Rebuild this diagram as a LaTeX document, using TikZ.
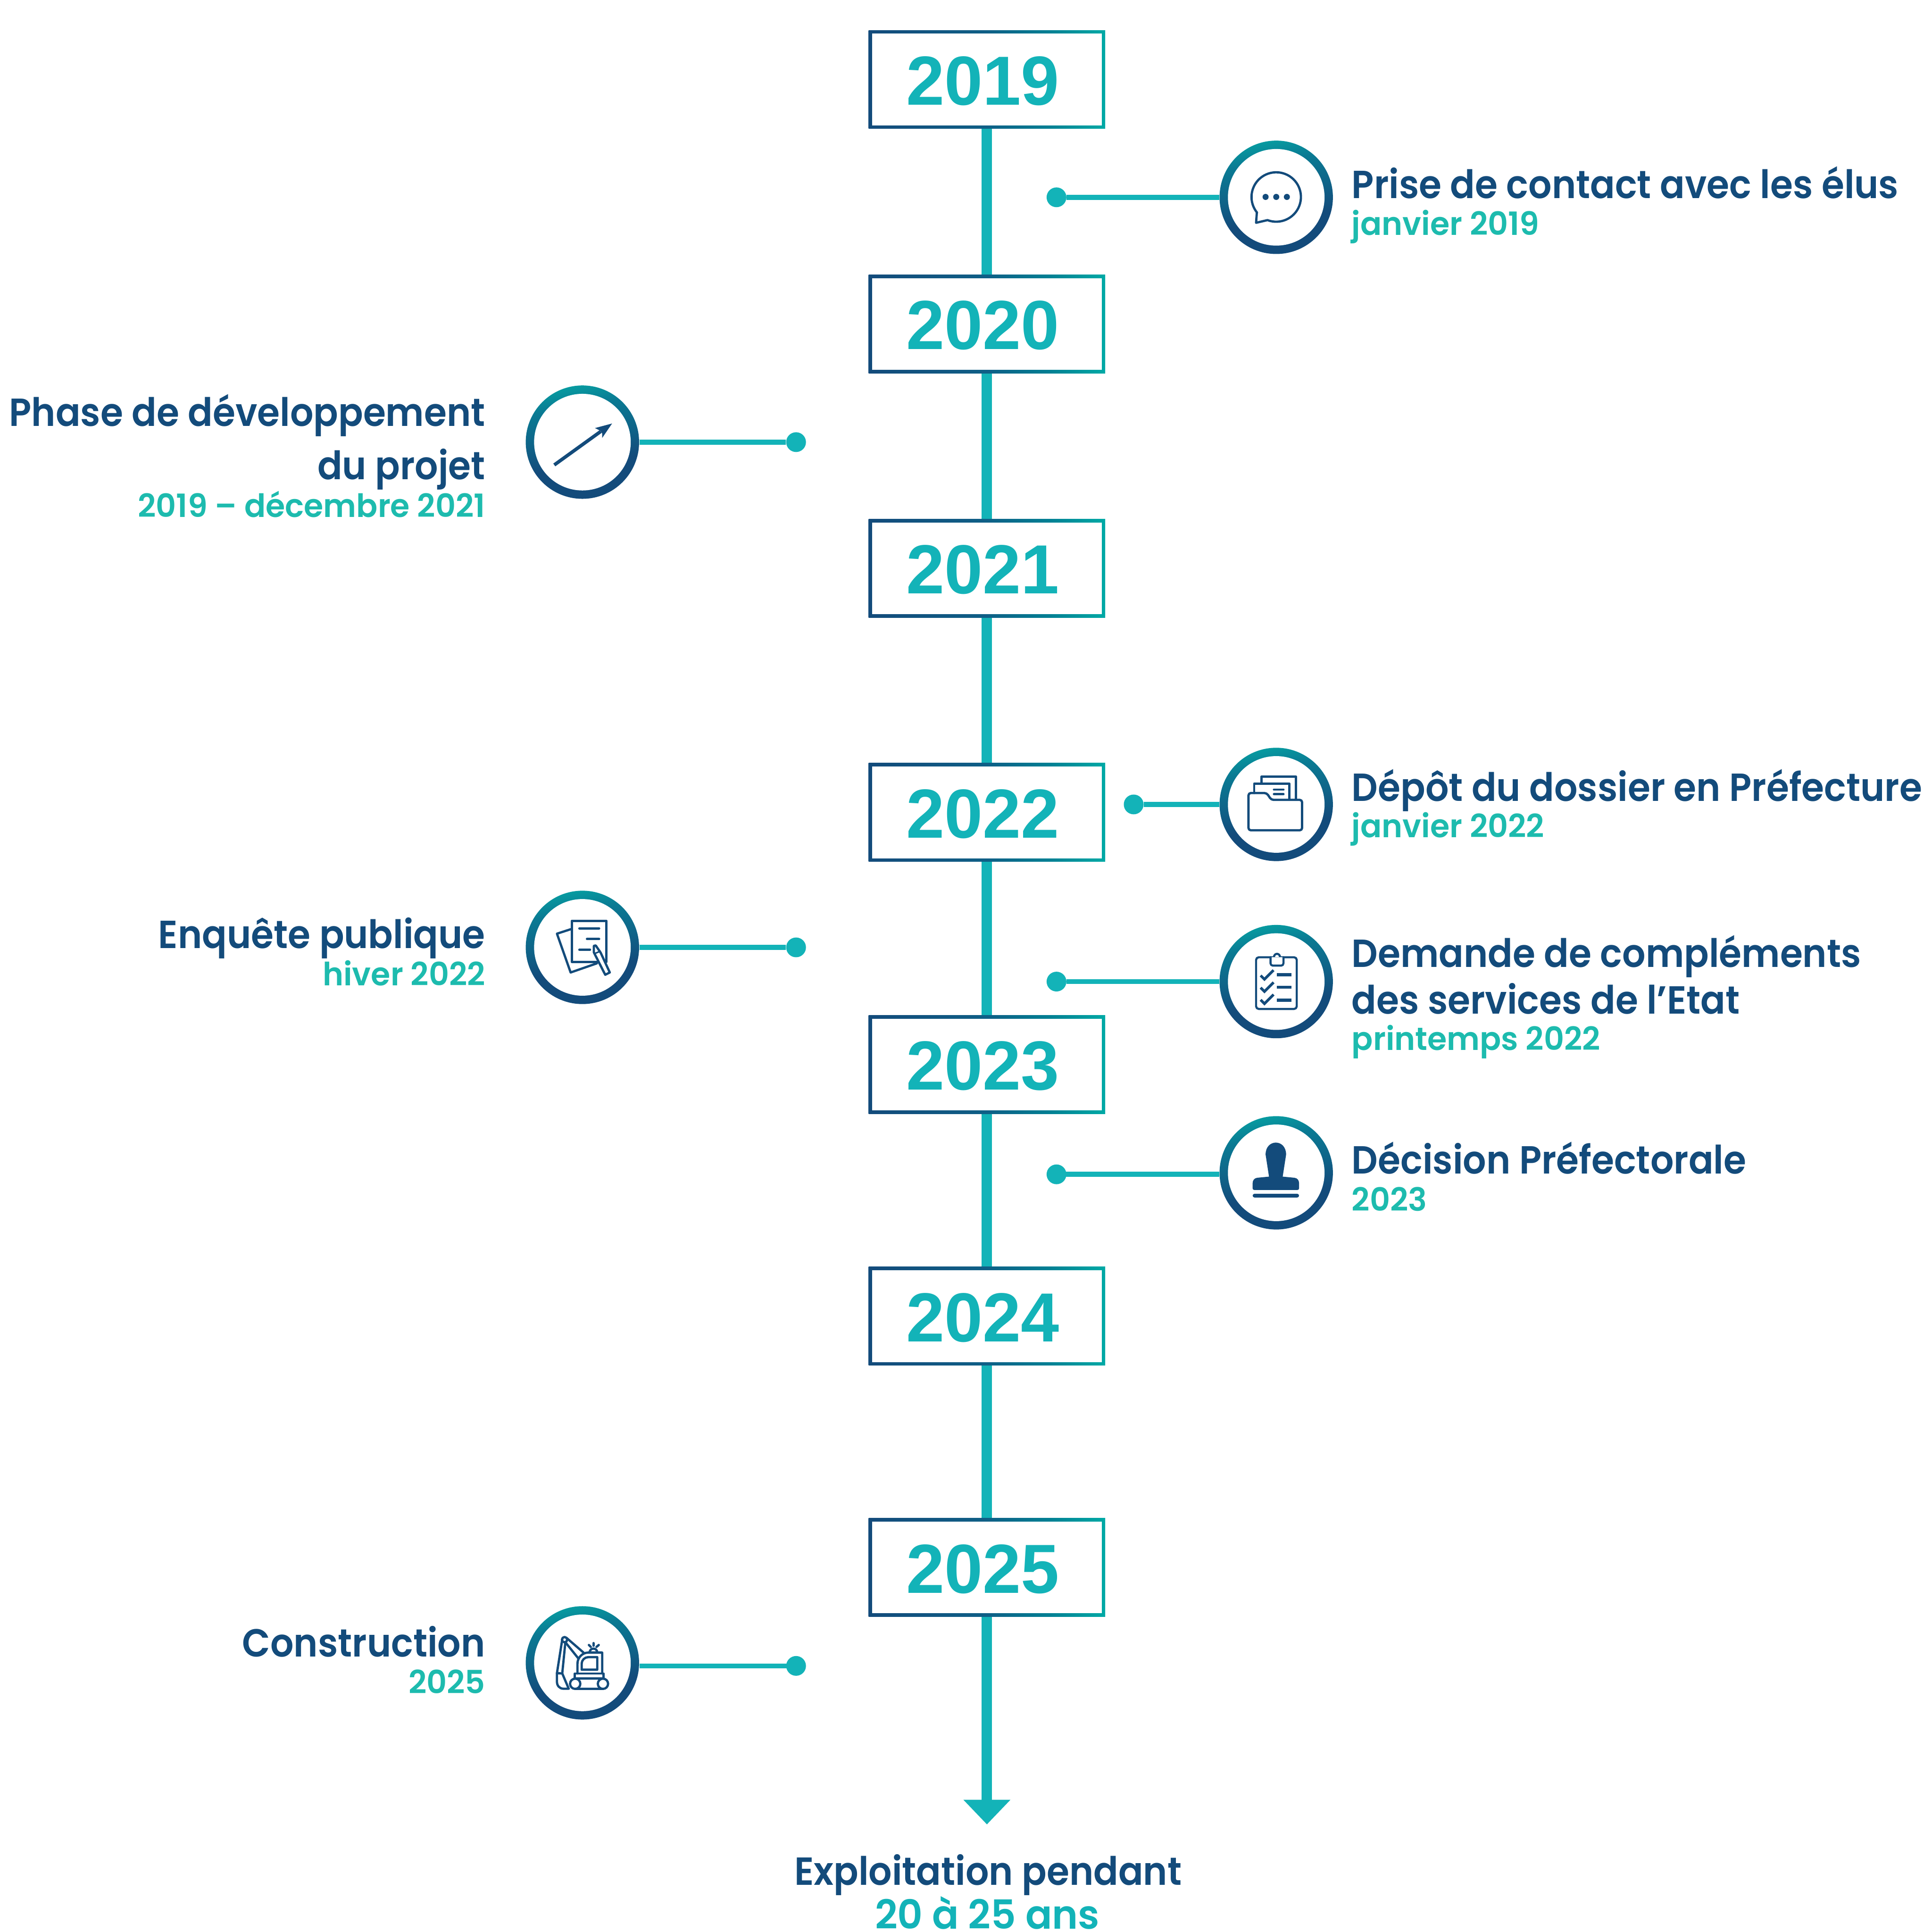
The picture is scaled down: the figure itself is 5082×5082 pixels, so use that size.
\documentclass[tikz,border=0pt]{standalone}
\usepackage{fontspec}
\setmainfont{Poppins}
\newfontfamily\headfont{Poppins SemiBold}[FakeStretch=0.935]
\newfontfamily\subfont{Poppins SemiBold}[FakeStretch=0.98]
\newfontfamily\yearfont{Liberation Sans}[FakeStretch=0.99]
\usetikzlibrary{arrows.meta}
\definecolor{navy}{HTML}{134B7B}
\definecolor{spine}{HTML}{13B3B8}
\definecolor{subtext}{HTML}{1DBBAE}
\definecolor{ringmid}{HTML}{0F6388}
\definecolor{ringup}{HTML}{0A7A93}
\definecolor{ringtop}{HTML}{079AA0}
\definecolor{framemid}{HTML}{0F5F86}
\definecolor{frameup}{HTML}{027F93}
\definecolor{frameend}{HTML}{00A9A5}
\pgfdeclarehorizontalshading{yearframe}{100bp}{color(0bp)=(navy); color(25bp)=(navy); color(50bp)=(framemid); color(63bp)=(frameup); color(75bp)=(frameend); color(100bp)=(frameend)}
\pgfdeclareverticalshading{ringshade}{100bp}{color(0bp)=(navy); color(25bp)=(navy); color(40bp)=(navy); color(52bp)=(ringmid); color(66bp)=(ringup); color(75bp)=(ringtop); color(100bp)=(ringtop)}
\tikzset{
    yearbox/.style={rectangle,minimum width=6.22cm,minimum height=2.59cm,inner sep=0pt,shade,shading=yearframe,
        path picture={\fill[white] ([shift={(.09cm,.09cm)}]path picture bounding box.south west) rectangle ([shift={(-.09cm,-.09cm)}]path picture bounding box.north east);}},
    yearlabel/.style={inner sep=0pt,text=spine,font=\yearfont\bfseries\fontsize{52}{60}\selectfont},
    ring/.style={circle,minimum size=2.98cm,inner sep=0pt,shade,shading=ringshade,shading angle=10,
        path picture={\fill[white] (path picture bounding box.center) circle (1.27cm);}},
    dot/.style={circle,fill=spine,minimum size=.52cm,inner sep=0pt},
    link/.style={draw=spine,line width=.13cm},
    spineline/.style={draw=spine,line width=.27cm},
    icon/.style={draw=navy,line width=.06cm,line cap=round,line join=round},
    headl/.style={inner sep=0pt,text=navy,font=\headfont\fontsize{29.3}{35}\selectfont},
    subl/.style={inner sep=0pt,text=subtext,font=\subfont\fontsize{24}{30}\selectfont},
}
\begin{document}
\begin{tikzpicture}[x=.01cm,y=-.01cm]
    \useasboundingbox (0,0) rectangle (5082,5082);

    \node[yearbox] (y2019) at (2596,209) {};
    \node[yearbox] (y2020) at (2596,852) {};
    \node[yearbox] (y2021) at (2596,1495) {};
    \node[yearbox] (y2022) at (2596,2137) {};
    \node[yearbox] (y2023) at (2596,2800) {};
    \node[yearbox] (y2024) at (2596,3462) {};
    \node[yearbox] (y2025) at (2596,4123) {};

    \node[yearlabel] (l2019) at (2585,213) {2019};
    \node[yearlabel] (l2020) at (2585,856) {2020};
    \node[yearlabel] (l2021) at (2585,1499) {2021};
    \node[yearlabel] (l2022) at (2585,2141) {2022};
    \node[yearlabel] (l2023) at (2585,2804) {2023};
    \node[yearlabel] (l2024) at (2585,3466) {2024};
    \node[yearlabel] (l2025) at (2585,4127) {2025};

    \coordinate (tip) at (2596,4799);
    \draw[spineline] (y2019) -- (y2020);
    \draw[spineline] (y2020) -- (y2021);
    \draw[spineline] (y2021) -- (y2022);
    \draw[spineline] (y2022) -- (y2023);
    \draw[spineline] (y2023) -- (y2024);
    \draw[spineline] (y2024) -- (y2025);
    \draw[spineline,-{Triangle[length=.65cm,width=1.2cm]}] (y2025) -- (tip);

    \node[ring] (chat) at (3357,519) {};
    \node[ring] (trend) at (1532,1163) {};
    \node[ring] (folder) at (3357,2116) {};
    \node[ring] (papers) at (1532,2492) {};
    \node[ring] (tasks) at (3357,2582) {};
    \node[ring] (stamp) at (3357,3085) {};
    \node[ring] (digger) at (1532,4374) {};

    \node[dot] (dchat) at (2779,519) {};
    \node[dot] (dtrend) at (2094,1163) {};
    \node[dot] (dfolder) at (2982,2116) {};
    \node[dot] (dpapers) at (2094,2492) {};
    \node[dot] (dtasks) at (2779,2582) {};
    \node[dot] (dstamp) at (2779,3089) {};
    \node[dot] (ddigger) at (2094,4382) {};

    \draw[link] (dchat) -- (chat);
    \draw[link] (dtrend) -- (trend);
    \draw[link] (dfolder) -- (folder);
    \draw[link] (dpapers) -- (papers);
    \draw[link] (dtasks) -- (tasks);
    \draw[link] (dstamp.center) -- (dstamp.center -| stamp.west);
    \draw[link] (ddigger.center) -- (ddigger.center -| digger.east);

    \begin{scope}[shift={(chat.center)}]
        \draw[icon] (-51,40) -- (-53,67) -- (-23,60) arc[start angle=110.7,end angle=-219,radius=65];
        \fill[navy] (-28,-1) circle (8);
        \fill[navy] (0,-1) circle (8);
        \fill[navy] (28,-1) circle (8);
    \end{scope}

    \begin{scope}[shift={(trend.center)}]
        \draw[navy,line width=.09cm] (-74,60) -- (48,-28);
        \fill[navy] (78,-49) -- (33,-37) -- (47,-30) -- (52,-23) -- (52,-11) -- cycle;
    \end{scope}

    \begin{scope}[shift={(folder.center)}]
        \draw[icon] (-39,-56) -- (-39,-73) -- (52,-73) -- (52,-13);
        \draw[icon] (-58,-30) -- (-58,-55) -- (34,-55) -- (34,-13);
        \draw[icon,rounded corners=.06cm] (-73,-30) -- (-25,-30) -- (-13,-12) -- (68,-12) -- (68,68) -- (-73,68) -- cycle;
        \draw[icon] (-6,-39) -- (19,-39);
        \draw[icon] (-6,-27) -- (19,-27);
    \end{scope}

    \begin{scope}[shift={(papers.center)}]
        \draw[icon] (-30,-48) -- (-67,-36) -- (-31,66) -- (38,42);
        \draw[icon] (-28,-70) rectangle (63,38);
        \draw[icon] (-8,-50) -- (44,-50);
        \draw[icon] (12,-22) -- (44,-22);
        \draw[icon] (-8,6) -- (20,6);
        \draw[icon,fill=white] (30,13) -- (60,72) -- (72,66) -- (48,14) -- (35,-5) -- (30,-4) -- cycle;
        \draw[icon,line width=.04cm] (33,16) -- (47,10);
    \end{scope}

    \begin{scope}[shift={(tasks.center)}]
        \draw[icon,line width=.055cm,rounded corners=.07cm] (-53,-64) rectangle (54,72);
        \draw[icon,line width=.055cm,fill=white] (-6,-64) .. controls (-6,-76) and (10,-76) .. (10,-64);
        \draw[icon,line width=.055cm,fill=white,rounded corners=.06cm] (-15,-64) -- (-15,-42) -- (19,-42) -- (19,-64);
        \draw[navy,line width=.07cm,line cap=butt] (-41,-16) -- (-31,-6) -- (-7,-30);
        \draw[navy,line width=.07cm,line cap=butt] (-41,16) -- (-31,26) -- (-7,2);
        \draw[navy,line width=.07cm,line cap=butt] (-41,48) -- (-31,58) -- (-7,34);
        \draw[navy,line width=.08cm] (2,-18) -- (40,-18);
        \draw[navy,line width=.08cm] (2,15) -- (40,15);
        \draw[navy,line width=.08cm] (2,49) -- (40,49);
    \end{scope}

    \begin{scope}[shift={(stamp.center)}]
        \fill[navy] (-28,-48) .. controls (-28,-90) and (26,-90) .. (26,-48) -- (17,10) -- (48,13) .. controls (56,14) and (60,20) .. (60,27) -- (60,41) .. controls (60,44) and (58,45) .. (56,45) -- (-58,45) .. controls (-60,45) and (-62,44) .. (-62,41) -- (-62,27) .. controls (-62,20) and (-58,14) .. (-50,13) -- (-19,10) -- cycle;
        \fill[navy,rounded corners=.05cm] (-62,55) rectangle (60,65);
    \end{scope}

    \begin{scope}[shift={(digger.center)},every path/.append style={line width=.045cm}]
        \draw[icon] (-13,28) -- (-13,2) .. controls (-13,-14) and (0,-27) .. (15,-27) -- (52,-27) -- (52,28);
        \draw[icon] (-2,18) -- (-2,2) .. controls (-2,-7) and (6,-15) .. (15,-15) -- (39,-15) -- (39,18) -- cycle;
        \draw[icon] (-20,28) rectangle (56,41);
        \draw[icon] (-19,55) circle (13.5);
        \draw[icon] (54,55) circle (13.5);
        \draw[icon] (-19,68.5) -- (54,68.5);
        \draw[icon] (-41,-65) -- (3,-27);
        \draw[icon] (-43,-52) -- (-11,-12);
        \draw[icon] (-53,-62) -- (-67,27);
        \draw[icon] (-45,-53) -- (-53,27);
        \draw[icon] (-47,-61) circle (7);
        \draw[icon] (-67,27) -- (-67,50) .. controls (-67,60) and (-60,68) .. (-50,68) -- (-36,68) -- (-53,28) -- cycle;
        \draw[icon] (19,-27) .. controls (19,-41) and (39,-41) .. (39,-27);
        \draw[icon] (29,-52) -- (29,-45);
        \draw[icon] (17,-47) -- (22,-42);
        \draw[icon] (43,-47) -- (37,-42);
    \end{scope}

    \node[headl,anchor=base west] (h1) at (3555,522) {Prise de contact avec les élus};
    \node[subl,anchor=base west] (s1) at (3555,618) {janvier 2019};

    \node[headl,anchor=base east] (h2a) at (1277,1121) {Phase de développement};
    \node[headl,anchor=base east] (h2b) at (1277,1261) {du projet};
    \node[subl,anchor=base east] (s2) at (1277,1360) {2019 – décembre 2021};

    \node[headl,anchor=base west] (h3) at (3555,2107) {Dépôt du dossier en Préfecture};
    \node[subl,anchor=base west] (s3) at (3555,2203) {janvier 2022};

    \node[headl,anchor=base east] (h4) at (1277,2495) {Enquête publique};
    \node[subl,anchor=base east] (s4) at (1277,2592) {hiver 2022};

    \node[headl,anchor=base west] (h5a) at (3555,2544) {Demande de compléments};
    \node[headl,anchor=base west] (h5b) at (3555,2667) {des services de l’Etat};
    \node[subl,anchor=base west] (s5) at (3555,2763) {printemps 2022};

    \node[headl,anchor=base west] (h6) at (3555,3087) {Décision Préfectorale};
    \node[subl,anchor=base west] (s6) at (3555,3185) {2023};

    \node[headl,anchor=base east] (h7) at (1277,4358) {Construction};
    \node[subl,anchor=base east] (s7) at (1277,4455) {2025};

    \node[headl,anchor=base] (h8) at (2599,4958) {Exploitation pendant};
    \node[inner sep=0pt,anchor=base,text=spine,font=\subfont\fontsize{30}{36}\selectfont] (s8) at (2597,5074) {20 à 25 ans};
\end{tikzpicture}
\end{document}
